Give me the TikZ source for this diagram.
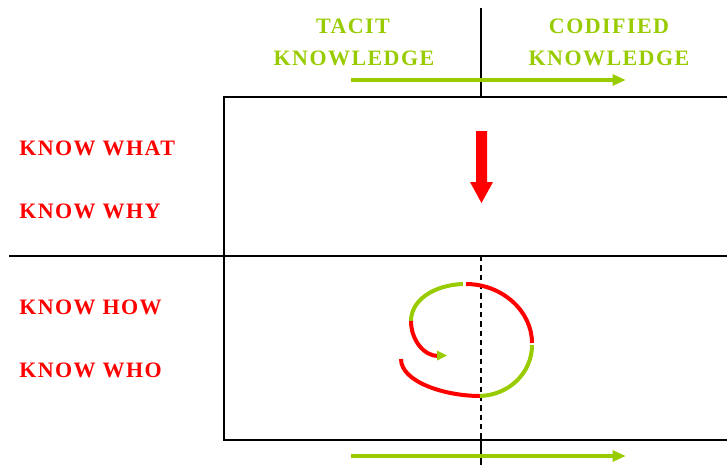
\documentclass[tikz,border=0pt]{standalone}
\usepackage{fontspec}
\setmainfont{Liberation Serif}
\newfontfamily\lblfont[LetterSpace=6.5]{Liberation Serif}
\usetikzlibrary{arrows.meta}
\definecolor{kgreen}{HTML}{99CC00}
\definecolor{kred}{HTML}{FF0000}
\tikzset{
  redlbl/.style={anchor=base west, inner sep=0pt, text=kred, font=\lblfont\fontsize{16.5}{19}\selectfont\bfseries},
  greenlbl/.style={anchor=base, inner sep=0pt, text=kgreen, font=\lblfont\fontsize{16.5}{19}\selectfont\bfseries},
  frame/.style={line width=1.9pt, black},
  flowarrow/.style={kgreen, line width=3pt, -{Triangle[length=10pt,width=8pt]}},
  spr/.style={line width=3pt, kred},
  spg/.style={line width=3pt, kgreen},
}
\begin{document}
\begin{tikzpicture}[x=0.75pt,y=-0.75pt]
\useasboundingbox (0,0) rectangle (727,465);
% frame coordinates
\coordinate (vtop) at (481,8);
\coordinate (vrect) at (481,97);
\coordinate (tl) at (224,97);
\coordinate (tr) at (727,97);
\coordinate (bl) at (224,440);
\coordinate (br) at (727,440);
\coordinate (hl) at (9,256);
\coordinate (hr) at (727,256);
\coordinate (dtop) at (481,256);
\coordinate (dbot) at (481,440);
\coordinate (vbot) at (481,465);
\draw[frame] (vtop) -- (vrect);
\draw[frame] (tr) -- (tl) -- (bl) -- (br);
\draw[frame] (hl) -- (hr);
\draw[black, line width=1.5pt, dash pattern=on 4pt off 3pt] (dtop) -- (dbot);
\draw[frame] (dbot) -- (vbot);
% labels
\node[greenlbl] (tacit) at (353,33) {TACIT};
\node[greenlbl] (tk) at (354,65) {KNOWLEDGE};
\node[greenlbl] (cod) at (609,33) {CODIFIED};
\node[greenlbl] (ck) at (609,65) {KNOWLEDGE};
\node[redlbl] (kwhat) at (19,155) {KNOW WHAT};
\node[redlbl] (kwhy) at (19,218) {KNOW WHY};
\node[redlbl] (khow) at (19,314) {KNOW HOW};
\node[redlbl] (kwho) at (19,377) {KNOW WHO};
% green arrows
\coordinate (a1s) at (351,80);
\coordinate (a1e) at (626,80);
\coordinate (a2s) at (351,456);
\coordinate (a2e) at (626,456);
\draw[flowarrow] (a1s) -- (a1e);
\draw[flowarrow] (a2s) -- (a2e);
% red down arrow
\fill[kred] (476,131) -- (487,131) -- (487,182) -- (493,182) -- (481.5,203) -- (470,182) -- (476,182) -- cycle;
% spiral
\draw[spr] (401,359) .. controls (401,382) and (445,396) .. (480,396);
\draw[spg] (480,396) .. controls (509,395) and (532,373) .. (532,345);
\draw[spr] (532,343) .. controls (532,311) and (502,284) .. (466,284);
\draw[spg] (463,284) .. controls (434,285) and (411,300) .. (411,321);
\draw[spr] (411,321) .. controls (411,340) and (424,356) .. (438,356);
\fill[kgreen] (437,350.5) -- (447,355.5) -- (437,360.5) -- cycle;
\end{tikzpicture}
\end{document}
